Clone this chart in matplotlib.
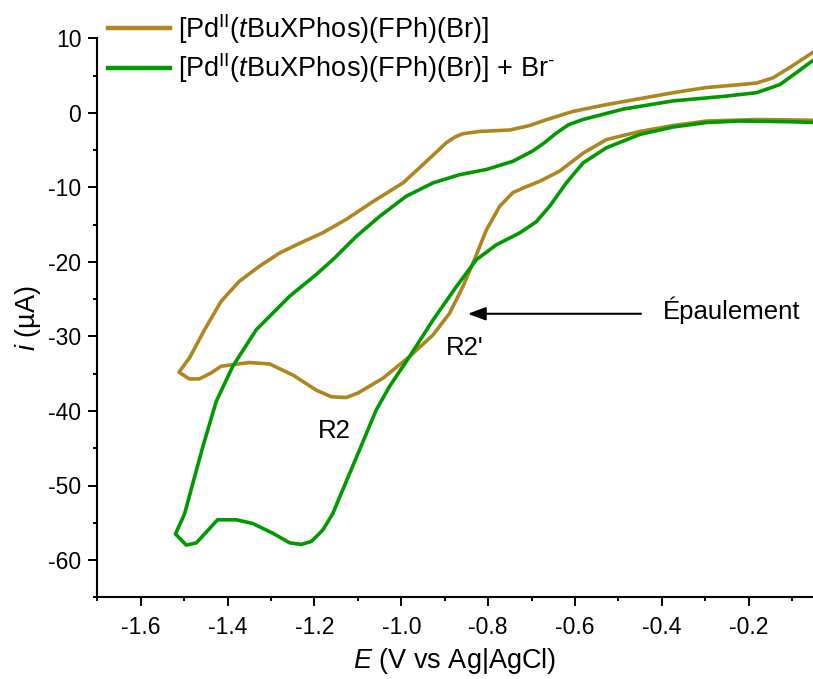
import matplotlib
matplotlib.use("Agg")
import matplotlib.pyplot as plt
from matplotlib.patches import FancyArrowPatch

plt.rcParams['font.family'] = ['Liberation Sans', 'DejaVu Sans']
plt.rcParams['mathtext.fontset'] = 'custom'
plt.rcParams['mathtext.rm'] = 'Liberation Sans'
plt.rcParams['mathtext.it'] = 'Liberation Sans:italic'
plt.rcParams['mathtext.bf'] = 'Liberation Sans:bold'

# ---- data: [Pd(II)(tBuXPhos)(FPh)(Br)] ----
pd_red_E = [-0.045, -0.10, -0.182, -0.297, -0.374, -0.451, -0.528, -0.581, -0.635, -0.658,
            -0.682, -0.712, -0.743, -0.773, -0.804, -0.831, -0.858, -0.889, -0.927, -0.981,
            -1.042, -1.100, -1.127, -1.161, -1.196, -1.249, -1.303, -1.350, -1.415, -1.438,
            -1.465, -1.488, -1.512]
pd_red_i = [-1.0, -0.95, -0.9, -1.1, -1.7, -2.5, -3.6, -5.4, -7.8, -8.5,
            -9.2, -9.9, -10.7, -12.5, -15.7, -19.6, -23.3, -26.9, -29.8, -32.7,
            -35.6, -37.6, -38.2, -38.1, -37.2, -35.2, -33.7, -33.5, -34.0, -34.9,
            -35.7, -35.7, -34.8]
pd_ox_E = [-1.512, -1.488, -1.453, -1.415, -1.373, -1.327, -1.280, -1.234, -1.181, -1.127,
           -1.065, -0.996, -0.942, -0.896, -0.875, -0.858, -0.820, -0.750, -0.704, -0.670,
           -0.604, -0.528, -0.451, -0.374, -0.297, -0.236, -0.182, -0.144, -0.105, -0.055,
           -0.045]
pd_ox_i = [-34.8, -32.9, -29.1, -25.3, -22.6, -20.6, -18.8, -17.5, -16.1, -14.3,
           -11.9, -9.4, -6.5, -4.0, -3.2, -2.8, -2.5, -2.3, -1.7, -1.0,
           0.2, 1.1, 1.9, 2.7, 3.4, 3.7, 4.0, 4.7, 6.1, 8.0,
           8.4]

# ---- data: [Pd(II)(tBuXPhos)(FPh)(Br)] + Br- ----
br_red_E = [-0.045, -0.10, -0.221, -0.297, -0.374, -0.451, -0.528, -0.581, -0.620, -0.658,
            -0.689, -0.727, -0.781, -0.827, -0.873, -0.927, -0.981, -1.027, -1.058, -1.096,
            -1.135, -1.158, -1.181, -1.207, -1.230, -1.257, -1.296, -1.342, -1.380, -1.423,
            -1.472, -1.495, -1.520]
br_red_i = [-1.3, -1.2, -1.1, -1.3, -1.9, -2.9, -4.7, -6.7, -9.4, -12.5,
            -14.6, -16.1, -17.7, -19.7, -23.3, -27.8, -32.7, -36.7, -39.9, -45.2,
            -50.6, -53.8, -56.0, -57.5, -57.9, -57.7, -56.4, -55.1, -54.6, -54.6,
            -57.7, -58.0, -56.5]
br_ox_E = [-1.520, -1.499, -1.480, -1.457, -1.426, -1.388, -1.334, -1.257, -1.196, -1.154,
           -1.104, -1.050, -0.989, -0.927, -0.866, -0.804, -0.743, -0.697, -0.670, -0.645,
           -0.615, -0.582, -0.489, -0.374, -0.259, -0.182, -0.128, -0.090, -0.055, -0.045]
br_ox_i = [-56.5, -53.8, -49.7, -44.8, -38.7, -34.0, -29.1, -24.6, -21.7, -19.5,
           -16.6, -13.9, -11.2, -9.4, -8.3, -7.6, -6.5, -5.1, -4.0, -2.8,
           -1.6, -0.9, 0.5, 1.6, 2.2, 2.7, 3.8, 5.4, 6.9, 7.3]

labels = [r'[Pd$^{\mathrm{II}}$($t$BuXPhos)(FPh)(Br)]',
          r'[Pd$^{\mathrm{II}}$($t$BuXPhos)(FPh)(Br)] + Br$^{\text{-}}$']
colors = ['#AE861F', '#009A00']

x_ticks = [-1.6, -1.4, -1.2, -1.0, -0.8, -0.6, -0.4, -0.2]
y_ticks = [10, 0, -10, -20, -30, -40, -50, -60]

W, H = 813, 679
fig = plt.figure(figsize=(W / 100, H / 100), dpi=100)
ax = fig.add_axes([97.3 / W, 81.7 / H, (813 - 97.3) / W, (597.3 - 38.3) / H])

lw = 2.6
ax.plot(pd_red_E + pd_ox_E, pd_red_i + pd_ox_i, color=colors[0], lw=lw,
        solid_joinstyle='round', label=labels[0])
ax.plot(br_red_E + br_ox_E, br_red_i + br_ox_i, color=colors[1], lw=lw,
        solid_joinstyle='round', label=labels[1])

ax.set_xlim(-1.70, -0.052)
ax.set_ylim(-65, 10)
ax.set_xticks(x_ticks)
ax.set_xticklabels([f'{v:.1f}' for v in x_ticks])
ax.set_yticks(y_ticks)
ax.set_yticklabels([str(v) for v in y_ticks])
ax.set_xticks([-1.7, -1.5, -1.3, -1.1, -0.9, -0.7, -0.5, -0.3, -0.1], minor=True)
ax.set_yticks([5, -5, -15, -25, -35, -45, -55, -65], minor=True)

for s in ['top', 'right']:
    ax.spines[s].set_visible(False)
for s in ['left', 'bottom']:
    ax.spines[s].set_linewidth(1.5)
ax.tick_params(which='major', direction='out', length=6.5, width=1.4, labelsize=16.5)
ax.tick_params(which='minor', direction='out', length=3.2, width=1.4)
ax.tick_params(axis='x', which='major', pad=7)
ax.tick_params(axis='y', which='major', pad=5)

ax.set_xlabel(r'$E$ (V vs Ag|AgCl)', fontsize=19.5, labelpad=5)
ax.set_ylabel(r'$i$ (µA)', fontsize=19.5, labelpad=4)

leg = ax.legend(loc='upper left', bbox_to_anchor=(108 / W, 1 - 12 / H),
                bbox_transform=fig.transFigure, frameon=False, fontsize=19.5,
                handlelength=2.3, handletextpad=0.3, labelspacing=0.2,
                borderpad=0, borderaxespad=0)
for ln in leg.get_lines():
    ln.set_linewidth(3.2)

ax.text(-1.154, -43.6, 'R2', fontsize=18.5, ha='center', va='baseline')
ax.text(-0.898, -32.5, "R2'", fontsize=18.5, ha='left', va='baseline')
ax.text(-0.3986, -27.7, 'Épaulement', fontsize=18.5, ha='left', va='baseline')
arrow = FancyArrowPatch((-0.448, -26.96), (-0.847, -26.96),
                        arrowstyle='-|>,head_length=0.54,head_width=0.2',
                        mutation_scale=20, lw=1.5, color='black',
                        shrinkA=0, shrinkB=0)
ax.add_patch(arrow)

fig.savefig('out.png', dpi=100)
